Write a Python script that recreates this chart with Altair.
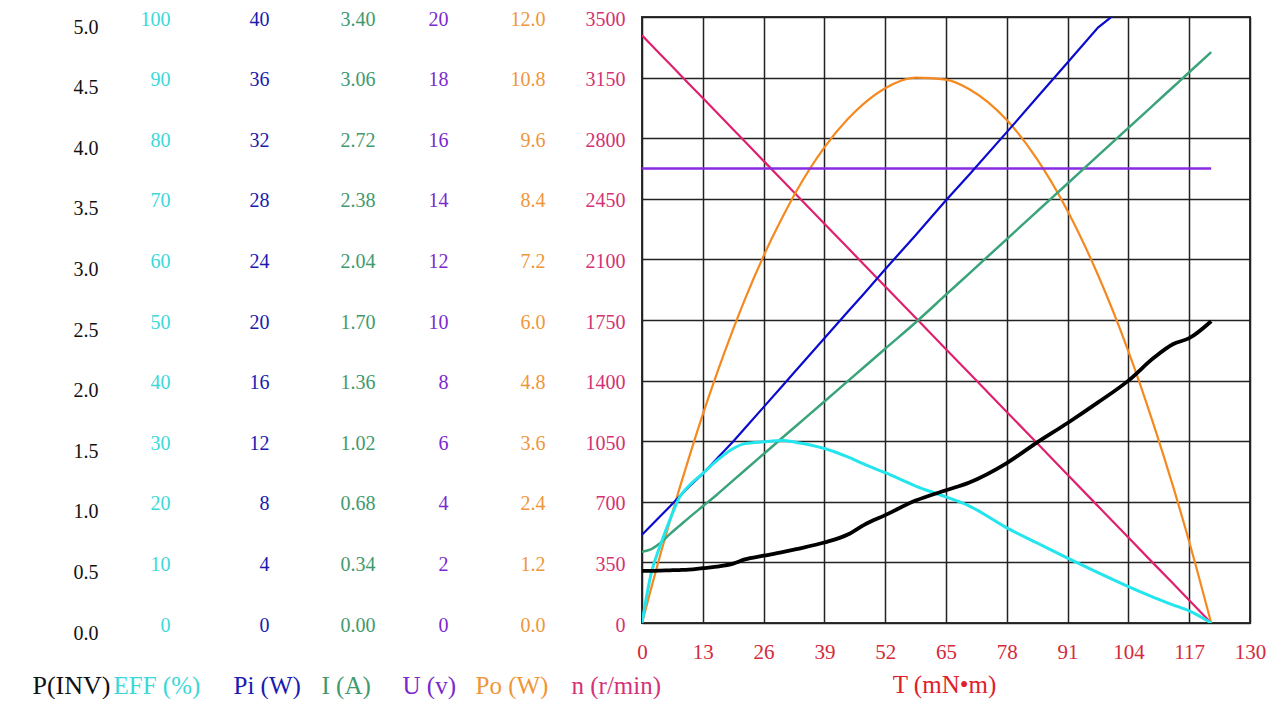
import altair as alt
import pandas as pd

# torque sample points (mN·m)
T = [0, 2, 4, 6, 8, 10, 13, 16, 19.5, 22, 26, 30, 33, 39, 44, 47.5, 52, 58.5,
     65, 70, 78, 84.5, 91, 97.5, 104, 109.5, 113.5, 117, 121.7]
# speed n (r/min)
n_vals = [3394, 3338, 3282, 3227, 3171, 3115, 3032, 2948, 2850, 2781, 2669, 2557,
          2474, 2306, 2167, 2069, 1944, 1763, 1581, 1442, 1219, 1038, 856, 675,
          494, 340, 229, 131, 0]
# output power Po (W)
po_vals = [0, 0.70, 1.38, 2.03, 2.66, 3.26, 4.13, 4.94, 5.82, 6.41, 7.27, 8.03,
           8.55, 9.42, 9.98, 10.29, 10.59, 10.80, 10.76, 10.57, 9.96, 9.18, 8.16,
           6.89, 5.38, 3.90, 2.72, 1.61, 0]
# voltage U (V)
u_vals = [15.0] * len(T)
# current I (A)
i_vals = [0.40, 0.415, 0.45, 0.50, 0.545, 0.59, 0.655, 0.72, 0.80, 0.857, 0.948,
          1.039, 1.107, 1.243, 1.357, 1.436, 1.539, 1.686, 1.842, 1.962, 2.154,
          2.31, 2.466, 2.622, 2.778, 2.91, 3.006, 3.09, 3.203]
# input power Pi (W)
pi_vals = [5.82, 6.45, 7.08, 7.70, 8.35, 8.98, 9.85, 10.85, 11.98, 12.85, 14.25,
           15.65, 16.7, 18.8, 20.55, 21.75, 23.35, 25.6, 27.9, 29.6, 32.4, 34.7,
           37.0, 39.3, 40.9, 42.8, 44.2, 45.5, 47.1]
# efficiency EFF (%)
eff_vals = [0, 8.3, 13.0, 17.1, 20.7, 22.6, 24.7, 26.8, 28.8, 29.6, 29.9, 30.1,
            29.8, 28.8, 27.4, 26.2, 24.8, 22.6, 20.8, 19.3, 15.7, 13.2, 10.7, 8.3,
            6.0, 4.2, 3.0, 2.0, 0]
# P(INV)
pinv_vals = [0.43, 0.43, 0.432, 0.435, 0.437, 0.44, 0.452, 0.465, 0.49, 0.525,
             0.555, 0.585, 0.61, 0.664, 0.73, 0.81, 0.89, 1.01, 1.095, 1.16, 1.32,
             1.49, 1.65, 1.82, 2.0, 2.19, 2.30, 2.35, 2.49]

# axis tick labels
T_ticks = [0, 13, 26, 39, 52, 65, 78, 91, 104, 117, 130]
P_ticks = [0.0, 0.5, 1.0, 1.5, 2.0, 2.5, 3.0, 3.5, 4.0, 4.5, 5.0]
EFF_ticks = [0, 10, 20, 30, 40, 50, 60, 70, 80, 90, 100]
PI_ticks = [0, 4, 8, 12, 16, 20, 24, 28, 32, 36, 40]
I_ticks = [0.0, 0.34, 0.68, 1.02, 1.36, 1.70, 2.04, 2.38, 2.72, 3.06, 3.40]
U_ticks = [0, 2, 4, 6, 8, 10, 12, 14, 16, 18, 20]
PO_ticks = [0.0, 1.2, 2.4, 3.6, 4.8, 6.0, 7.2, 8.4, 9.6, 10.8, 12.0]
N_ticks = [0, 350, 700, 1050, 1400, 1750, 2100, 2450, 2800, 3150, 3500]

df = pd.DataFrame({"T": T, "n": n_vals, "Po": po_vals, "U": u_vals, "I": i_vals,
                   "Pi": pi_vals, "EFF": eff_vals, "P": pinv_vals})

FONT = "Liberation Serif"
GRID = "#222222"

x_enc = alt.X(
    "T:Q",
    scale=alt.Scale(domain=[0, 130], nice=False, zero=False),
    axis=alt.Axis(
        values=T_ticks, format="d", grid=True, gridColor=GRID, gridWidth=1.5,
        gridOpacity=1, domain=False, ticks=False, tickSize=0, labelPadding=18,
        labelColor="#D42A3C", labelFont=FONT, labelFontSize=21, labelFlush=False,
        labelOverlap=False, title="T (mN•m)", titleColor="#E0202A", titleFont=FONT,
        titleFontSize=25, titleFontWeight="normal", titleAlign="center",
        titleBaseline="alphabetic", titleX=302, titleY=69,
    ),
)


def yaxis(title, values, fmt, color, offset, tx, tsize, grid=False, loff=2):
    return alt.Axis(
        orient="left", offset=offset, values=values, format=fmt, domain=False,
        ticks=False, tickSize=0, labelPadding=0, labelColor=color, labelFont=FONT,
        labelFontSize=20, labelAlign="right", labelBaseline="middle",
        labelOffset=loff, labelOverlap=False, labelFlush=False,
        title=title, titleColor=color, titleFont=FONT, titleFontSize=tsize,
        titleFontWeight="normal", titleAngle=0, titleAlign="left",
        titleBaseline="alphabetic", titleX=tx, titleY=676,
        grid=grid, gridColor=GRID, gridWidth=1.5, gridOpacity=1,
    )


def layer(col, domain, axis, color, width, interp="linear"):
    return alt.Chart(df).mark_line(
        color=color, strokeWidth=width, clip=True, interpolate=interp
    ).encode(
        x=x_enc,
        y=alt.Y(f"{col}:Q", scale=alt.Scale(domain=domain, nice=False, zero=False),
                axis=axis),
    )


l_n = layer("n", [0, 3500],
            yaxis("n (r/min)", N_ticks, "d", "#D43276", 17, -54, 25, grid=True),
            "#E0206E", 2.2)
l_po = layer("Po", [0, 12],
             yaxis("Po (W)", PO_ticks, ".1f", "#F0963A", 97, -70, 25),
             "#F5891F", 2.2, "monotone")
l_u = layer("U", [0, 20],
            yaxis("U (v)", U_ticks, "d", "#7A2AD0", 194, -46, 25),
            "#8A2BE2", 2.5)
l_i = layer("I", [0, 3.4],
            yaxis("I (A)", I_ticks, ".2f", "#3F9A6E", 267, -54, 25),
            "#3AA37A", 2.5, "monotone")
l_pi = layer("Pi", [0, 40],
             yaxis("Pi (W)", PI_ticks, "d", "#1A1AB0", 373, -36, 25),
             "#0A0ACF", 2.2)
l_eff = layer("EFF", [0, 100],
              yaxis("EFF (%)", EFF_ticks, "d", "#3CD8D8", 472, -57, 25),
              "#22E5EE", 3, "monotone")
l_p = layer("P", [0, 5],
            yaxis("P(INV)", P_ticks, ".1f", "#111111", 544, -66, 26, loff=10),
            "#000000", 3.8, "monotone")

chart = (
    alt.layer(l_n, l_po, l_u, l_i, l_pi, l_eff, l_p)
    .resolve_scale(y="independent")
    .resolve_axis(y="independent")
    .properties(
        width=608, height=606,
        autosize=alt.AutoSizeParams(type="none"),
        padding={"left": 634, "top": 9, "right": 17, "bottom": 76},
        background="white",
    )
    .configure_view(stroke="#333333", strokeWidth=2)
)

chart.save("out.html", embed_options={"renderer": "svg", "actions": False})
